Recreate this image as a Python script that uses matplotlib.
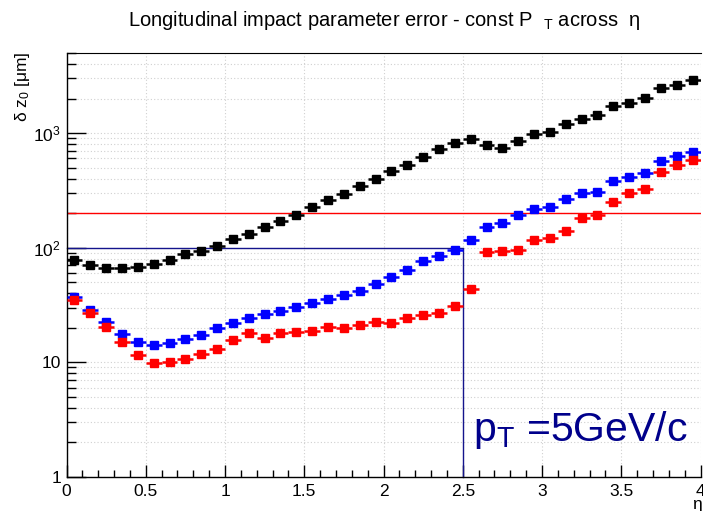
import numpy as np
import matplotlib
matplotlib.use('Agg')
import matplotlib.pyplot as plt
from matplotlib.ticker import MultipleLocator, LogLocator, NullFormatter, FixedLocator, FixedFormatter

plt.rcParams['font.family'] = ['Liberation Sans', 'DejaVu Sans']
plt.rcParams['mathtext.fontset'] = 'custom'
plt.rcParams['mathtext.rm'] = 'Liberation Sans'
plt.rcParams['mathtext.it'] = 'Liberation Sans:italic'

# 40 eta bins of width 0.1 from 0 to 4
eta_edges = np.linspace(0.0, 4.0, 41)
eta = 0.5 * (eta_edges[:-1] + eta_edges[1:])

# sigma(z0) in um per eta bin
dz0_black = [78.6, 70.5, 66.9, 66.9, 67.8, 72.5, 78.6, 87.4, 94.2, 104,
             118, 131, 150, 171, 193, 226, 260, 296, 347, 400,
             462, 522, 621, 719, 816, 885, 791, 744, 857, 973,
             1030, 1205, 1340, 1443, 1717, 1837, 2015, 2483, 2637, 2892]
dz0_blue = [37.1, 28.8, 22.3, 17.7, 15.0, 14.1, 14.6, 16.0, 17.4, 19.8,
            21.9, 24.3, 26.2, 28.0, 30.2, 32.9, 35.9, 38.5, 42.2, 48.6,
            55.9, 63.4, 76, 84, 95.3, 116, 150, 165, 192, 218,
            225, 267, 297, 308, 381, 416, 447, 573, 625, 687]
dz0_red = [34.7, 27.1, 20.2, 15.1, 11.6, 9.8, 10.0, 10.6, 11.8, 13.1,
           15.7, 18.0, 16.4, 18.0, 18.4, 18.7, 20.2, 19.7, 21.2, 22.2,
           21.9, 24.3, 25.8, 26.6, 30.8, 43.5, 92.3, 94.2, 95.3, 117,
           122, 141, 181, 194, 248, 301, 326, 453, 522, 580]

req_outer = 200    # requirement line, full range
req_inner = 100    # requirement line, |eta| < 2.5
eta_cut = 2.5

W, H = 703, 511
fig = plt.figure(figsize=(W / 100, H / 100), dpi=100)
ax = fig.add_axes([66.5 / W, 1 - 476.7 / H, 634 / W, 423.7 / H])

ax.set_yscale('log')
ax.set_xlim(0, 4)
ax.set_ylim(1, 5000)

# grid first so markers sit on top
ax.grid(True, which='major', axis='x', color='#d0d0d0', ls=(0, (1, 2)), lw=0.8)
ax.grid(True, which='both', axis='y', color='#d0d0d0', ls=(0, (1, 2)), lw=0.8)
ax.set_axisbelow(True)

ax.plot([0, 4], [req_outer, req_outer], color='#ff0000', lw=1.0, zorder=2)
ax.plot([0, eta_cut, eta_cut], [req_inner, req_inner, 1], color='#14148c', lw=1.0,
        zorder=2, clip_on=False)

for vals, col in [(dz0_black, 'black'), (dz0_blue, '#0000ff'), (dz0_red, '#ff0000')]:
    ax.errorbar(eta, vals, xerr=0.05, fmt='s', ms=5.6, color=col, mec=col,
                elinewidth=1.8, capsize=0, zorder=3)

ax.text(2.565, 2.05, r'p$_{\mathregular{T}}$ =5GeV/c', color='#00008b', fontsize=29.5,
        ha='left', va='baseline')

# axis styling
ax.xaxis.set_minor_locator(MultipleLocator(0.1))
ax.set_xticks([0, 0.5, 1, 1.5, 2, 2.5, 3, 3.5, 4])
ax.set_xticklabels(['0', '0.5', '1', '1.5', '2', '2.5', '3', '3.5', '4'])
ax.yaxis.set_major_locator(FixedLocator([1, 10, 100, 1000]))
ax.yaxis.set_major_formatter(FixedFormatter(['1', '10', r'$\mathregular{10^{2}}$',
                                             r'$\mathregular{10^{3}}$']))
ax.yaxis.set_minor_locator(LogLocator(base=10, subs=np.arange(2, 10), numticks=20))
ax.yaxis.set_minor_formatter(NullFormatter())

ax.tick_params(axis='x', which='major', direction='in', length=9, width=1, labelsize=12.5, pad=5)
ax.tick_params(axis='x', which='minor', direction='in', length=5, width=1)
ax.tick_params(axis='y', which='major', direction='in', length=14, width=1, labelsize=12.5, pad=4)
ax.tick_params(axis='y', which='minor', direction='in', length=6.5, width=1)
ax.tick_params(top=False, right=False, which='both')

ax.spines['right'].set_visible(False)
ax.spines['top'].set_linestyle((0, (1, 1)))
ax.spines['top'].set_linewidth(0.8)
for s in ['left', 'bottom']:
    ax.spines[s].set_linewidth(1.0)

fig.text(384 / W, 1 - 20 / H,
         r'Longitudinal impact parameter error - const P  ${}_{\mathregular{T}}$ across  η',
         ha='center', va='center', fontsize=14.5)
fig.text(22 / W, 1 - 52 / H, r'δ z$_{\mathregular{0}}$ [μm]', rotation=90,
         ha='center', va='top', fontsize=12.5)
fig.text(697 / W, 1 - 505 / H, 'η', ha='center', va='center', fontsize=12.5)

fig.savefig('out.png', dpi=100)
